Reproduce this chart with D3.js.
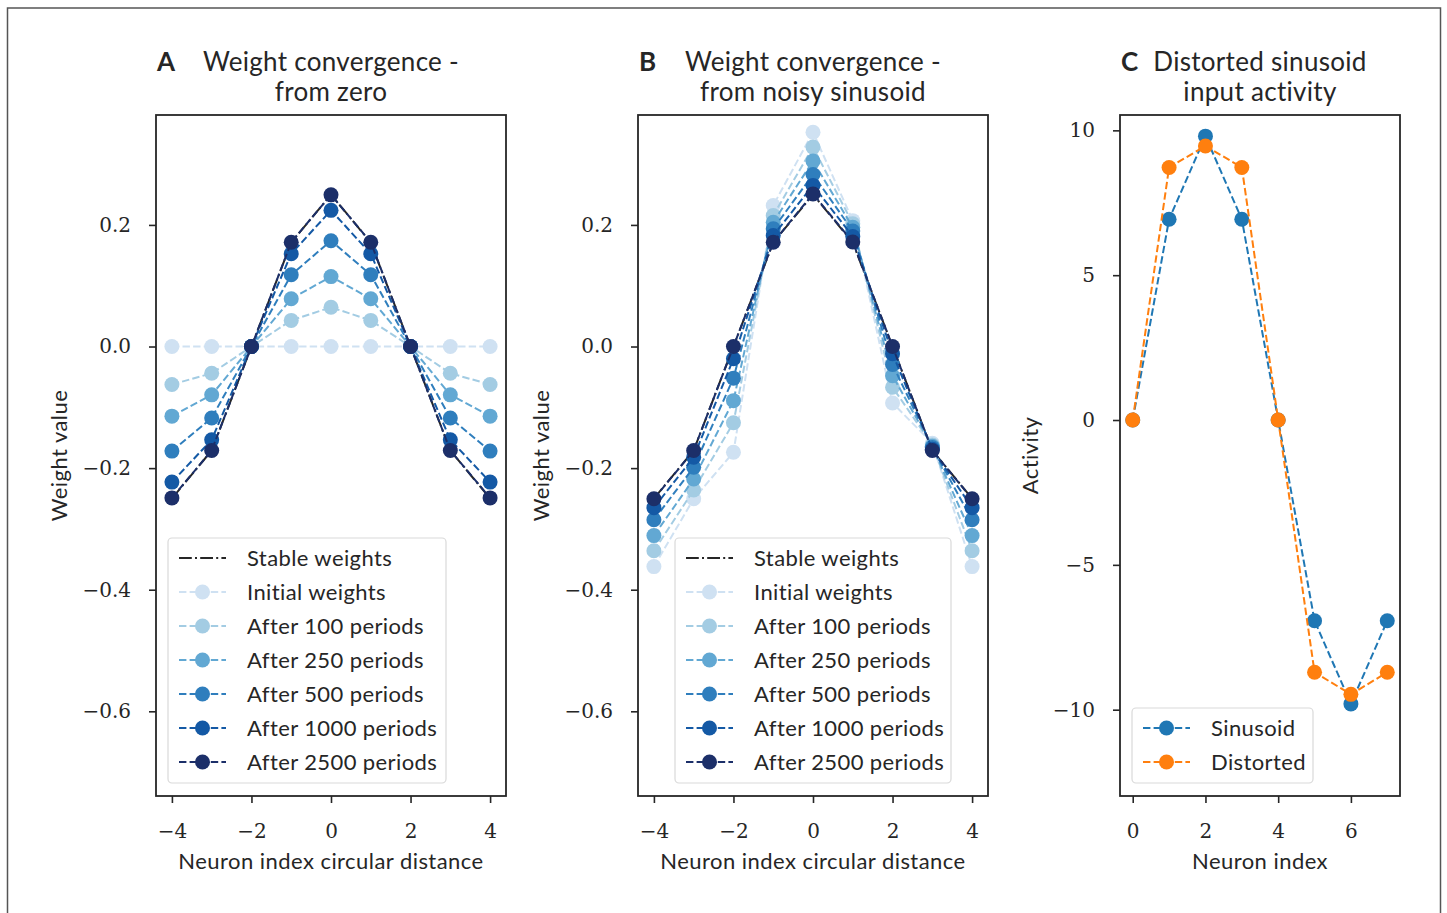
<!DOCTYPE html>
<html>
<head>
<meta charset="utf-8">
<script src="https://cdn.jsdelivr.net/npm/d3@7"></script>
<style>
  body { margin: 0; background: #fff; }
  svg { display: block; }
</style>
</head>
<body>
<svg id="chart" width="1447" height="913"></svg>
<script>
// ---- data ----
const distance = [-4, -3, -2, -1, 0, 1, 2, 3, 4];
const neuronIndex = [0, 1, 2, 3, 4, 5, 6, 7];

const seriesLabels = ["Initial weights", "After 100 periods", "After 250 periods",
                      "After 500 periods", "After 1000 periods", "After 2500 periods"];
const blues = ["#cfe1f2", "#a3cce3", "#62a8d3", "#2f7ebd", "#1459a5", "#1c2f69"];

const stableWeights = [-0.25, -0.171, 0, 0.171, 0.25, 0.171, 0, -0.171, -0.25];

// A: starting from zero
const zeroInitial = [0, 0, 0, 0, 0, 0, 0, 0, 0];
const zero100  = [-0.0625, -0.044, 0, 0.043, 0.0645, 0.043, 0, -0.044, -0.0625];
const zero250  = [-0.1145, -0.0795, 0, 0.0785, 0.115, 0.0785, 0, -0.0795, -0.1145];
const zero500  = [-0.172, -0.1175, 0, 0.118, 0.174, 0.118, 0, -0.1175, -0.172];
const zero1000 = [-0.223, -0.1535, 0, 0.1525, 0.224, 0.1525, 0, -0.1535, -0.223];
const zero2500 = [-0.249, -0.171, 0, 0.1715, 0.2495, 0.1715, 0, -0.171, -0.249];

// B: starting from a noisy sinusoid
const noisyInitial = [-0.362, -0.2505, -0.174, 0.232, 0.3525, 0.207, -0.093, -0.159, -0.362];
const noisy100  = [-0.336, -0.236, -0.1255, 0.2155, 0.328, 0.202, -0.067, -0.162, -0.336];
const noisy250  = [-0.311, -0.218, -0.089, 0.2045, 0.305, 0.196, -0.048, -0.164, -0.311];
const noisy500  = [-0.285, -0.1985, -0.052, 0.1935, 0.283, 0.19, -0.0296, -0.166, -0.285];
const noisy1000 = [-0.265, -0.182, -0.02, 0.1826, 0.265, 0.181, -0.012, -0.169, -0.265];
const noisy2500 = [-0.2505, -0.171, 0, 0.1715, 0.251, 0.172, 0, -0.171, -0.2505];

// C: input activity
const sinusoid  = [0, 6.93, 9.8, 6.93, 0, -6.93, -9.8, -6.93];
const distorted = [0, 8.72, 9.46, 8.72, 0, -8.71, -9.47, -8.71];

const weightTicks = [-0.6, -0.4, -0.2, 0.0, 0.2];
const distanceTicks = [-4, -2, 0, 2, 4];
const activityTicks = [-10, -5, 0, 5, 10];
const indexTicks = [0, 2, 4, 6];

// ---- styling ----
const sans = "Lato, 'Liberation Sans', sans-serif";
const serif = "'DejaVu Serif', 'Liberation Serif', serif";
const ink = "#262626";

const svg = d3.select("#chart");

// outer frame
svg.append("rect")
  .attr("x", 7.5).attr("y", 8).attr("width", 1433).attr("height", 920)
  .attr("fill", "none").attr("stroke", "#555").attr("stroke-width", 1.5);

function drawPanel(p) {
  const x = d3.scaleLinear().domain(p.xDomain).range([p.left, p.right]);
  const y = d3.scaleLinear().domain(p.yDomain).range([p.bottom, p.top]);
  const g = svg.append("g");

  const xAxis = g.append("g")
    .attr("transform", `translate(0,${p.bottom})`)
    .call(d3.axisBottom(x).tickValues(p.xTicks).tickFormat(d3.format("d"))
      .tickSize(7).tickPadding(21));
  const yAxis = g.append("g")
    .attr("transform", `translate(${p.left},0)`)
    .call(d3.axisLeft(y).tickValues(p.yTicks).tickFormat(p.yFormat)
      .tickSize(7).tickPadding(18));
  [xAxis, yAxis].forEach(a => {
    a.select(".domain").remove();
    a.selectAll(".tick line").attr("stroke", ink).attr("stroke-width", 1.6);
    a.selectAll(".tick text").attr("fill", ink)
      .style("font-family", serif).style("font-size", "20px");
  });

  const line = d3.line().x(d => x(d[0])).y(d => y(d[1]));

  p.series.forEach(s => {
    const pts = p.xs.map((v, i) => [v, s.values[i]]);
    g.append("path")
      .attr("d", line(pts))
      .attr("fill", "none")
      .attr("stroke", s.color)
      .attr("stroke-width", 2)
      .attr("stroke-dasharray", s.dash);
    if (s.marker) {
      g.append("g").selectAll("circle").data(pts).join("circle")
        .attr("cx", d => x(d[0])).attr("cy", d => y(d[1]))
        .attr("r", 7.5).attr("fill", s.color);
    }
  });

  // spines
  g.append("rect")
    .attr("x", p.left).attr("y", p.top)
    .attr("width", p.right - p.left).attr("height", p.bottom - p.top)
    .attr("fill", "none").attr("stroke", ink).attr("stroke-width", 1.8);

  // titles
  const cx = (p.left + p.right) / 2;
  g.append("text").attr("x", p.left + 1).attr("y", 71)
    .style("font-family", sans).style("font-weight", "bold").style("font-size", "26px")
    .attr("fill", ink).text(p.letter);
  p.title.forEach((t, i) => {
    g.append("text").attr("x", cx).attr("y", 71 + i * 30)
      .attr("text-anchor", "middle")
      .style("font-family", sans).style("font-size", "26px")
      .style("letter-spacing", "0.3px")
      .attr("fill", ink).text(t);
  });

  g.append("text").attr("x", cx).attr("y", 869)
    .attr("text-anchor", "middle")
    .style("font-family", sans).style("font-size", "22px")
    .style("letter-spacing", "0.45px")
    .attr("fill", ink).text(p.xLabel);
  g.append("text")
    .attr("transform", `translate(${p.yLabelX},${(p.top + p.bottom) / 2}) rotate(-90)`)
    .attr("text-anchor", "middle")
    .style("font-family", sans).style("font-size", "22px")
    .style("letter-spacing", "0.45px")
    .attr("fill", ink).text(p.yLabel);

  // legend
  const L = p.legend;
  const lg = g.append("g");
  lg.append("rect")
    .attr("x", L.x).attr("y", L.y).attr("width", L.w).attr("height", L.h)
    .attr("rx", 4).attr("fill", "#fff").attr("fill-opacity", 0.8)
    .attr("stroke", "#d9d9d9").attr("stroke-width", 1.2);
  p.series.forEach((s, i) => {
    const ry = L.y + 20 + i * 34;
    lg.append("line")
      .attr("x1", L.x + 11).attr("x2", L.x + 58).attr("y1", ry).attr("y2", ry)
      .attr("stroke", s.color).attr("stroke-width", 2)
      .attr("stroke-dasharray", s.dash);
    if (s.marker) {
      lg.append("circle").attr("cx", L.x + 34.5).attr("cy", ry).attr("r", 7.5)
        .attr("fill", s.color);
    }
    lg.append("text").attr("x", L.x + 79).attr("y", ry + 7.5)
      .style("font-family", sans).style("font-size", "22px")
      .style("letter-spacing", "0.4px")
      .attr("fill", ink).text(s.label);
  });
}

const dashed = "7.4 3.2";
const dashDot = "12.8 3.2 2 3.2";

function weightSeries(arrays) {
  const list = [{ label: "Stable weights", values: stableWeights, color: ink, dash: dashDot, marker: false }];
  arrays.forEach((a, i) => list.push({ label: seriesLabels[i], values: a, color: blues[i], dash: dashed, marker: true }));
  return list;
}

const fmtWeight = v => d3.format(".1f")(v);

drawPanel({
  letter: "A", title: ["Weight convergence -", "from zero"],
  left: 156, right: 506, top: 115, bottom: 796,
  xDomain: [-4.4, 4.4], yDomain: [-0.7393, 0.3808],
  xTicks: distanceTicks, yTicks: weightTicks, yFormat: fmtWeight,
  xs: distance,
  series: weightSeries([zeroInitial, zero100, zero250, zero500, zero1000, zero2500]),
  xLabel: "Neuron index circular distance", yLabel: "Weight value", yLabelX: 67,
  legend: { x: 168, y: 538, w: 278, h: 245 }
});

drawPanel({
  letter: "B", title: ["Weight convergence -", "from noisy sinusoid"],
  left: 638, right: 988, top: 115, bottom: 796,
  xDomain: [-4.4, 4.4], yDomain: [-0.7393, 0.3808],
  xTicks: distanceTicks, yTicks: weightTicks, yFormat: fmtWeight,
  xs: distance,
  series: weightSeries([noisyInitial, noisy100, noisy250, noisy500, noisy1000, noisy2500]),
  xLabel: "Neuron index circular distance", yLabel: "Weight value", yLabelX: 549,
  legend: { x: 675, y: 538, w: 276, h: 245 }
});

drawPanel({
  letter: "C", title: ["Distorted sinusoid", "input activity"],
  left: 1120, right: 1400, top: 115, bottom: 796,
  xDomain: [-0.35, 7.35], yDomain: [-12.98, 10.53],
  xTicks: indexTicks, yTicks: activityTicks, yFormat: d3.format("d"),
  xs: neuronIndex,
  series: [
    { label: "Sinusoid", values: sinusoid, color: "#1f77b4", dash: dashed, marker: true },
    { label: "Distorted", values: distorted, color: "#ff7f0e", dash: dashed, marker: true }
  ],
  xLabel: "Neuron index", yLabel: "Activity", yLabelX: 1038,
  legend: { x: 1132, y: 708, w: 181, h: 75 }
});
</script>
</body>
</html>
